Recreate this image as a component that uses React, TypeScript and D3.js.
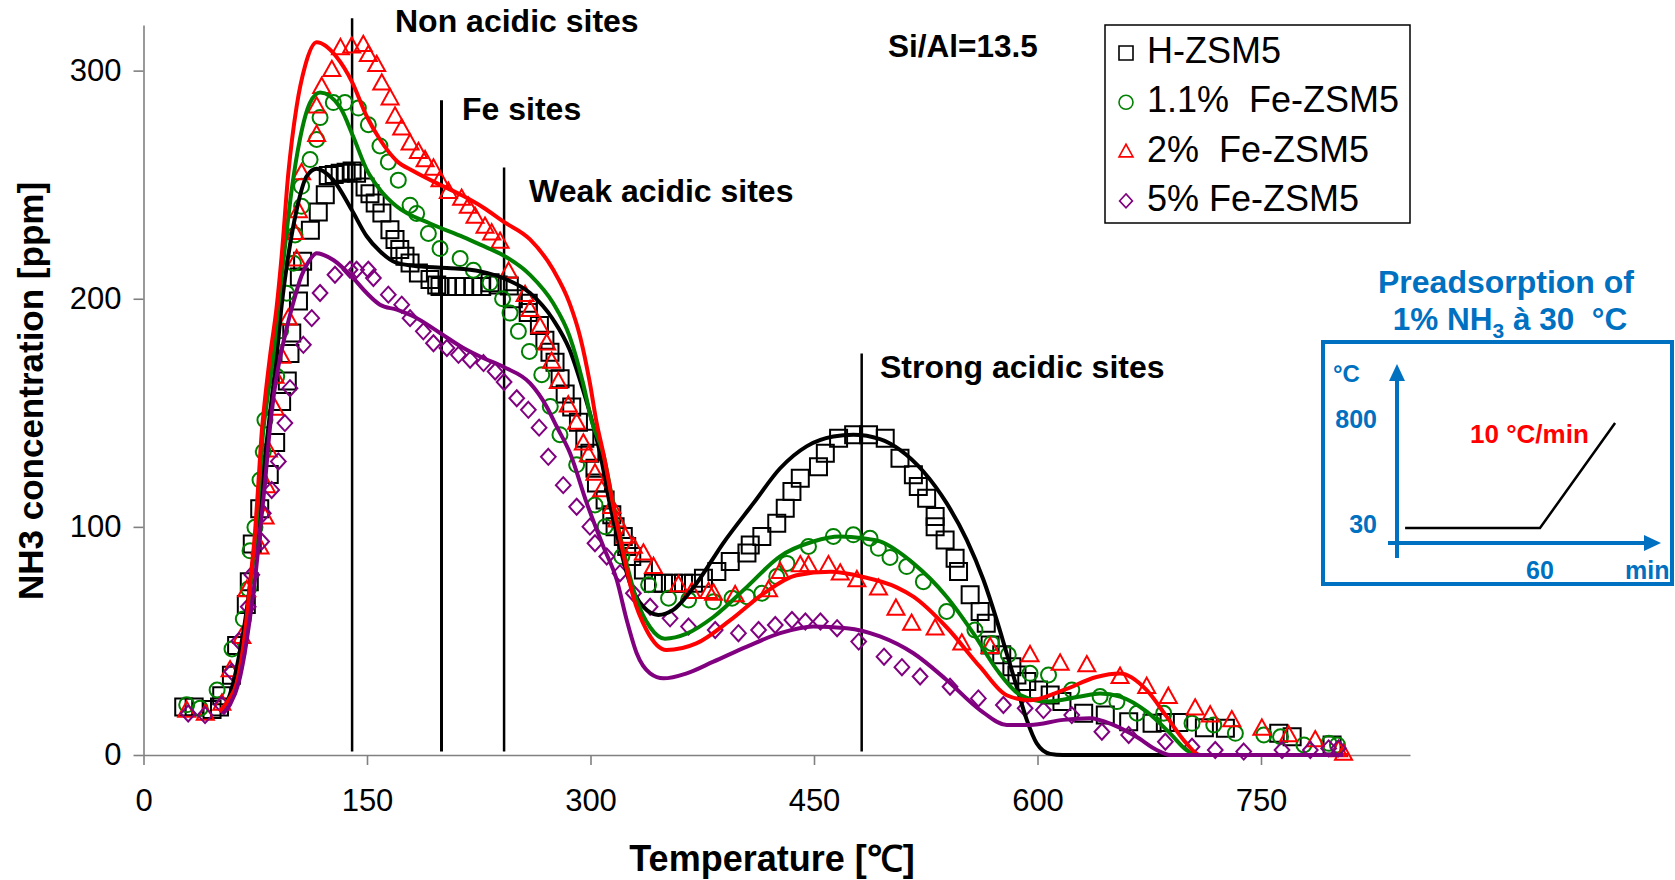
import React, { useEffect, useRef } from 'react';
import * as d3 from 'd3';

type Pt = [number, number];

// axis ticks
const xTicks = [0, 150, 300, 450, 600, 750];
const yTicks = [0, 100, 200, 300];

// measured points: [temperature °C, NH3 ppm]
const hzsm5Pts: Pt[] = [
  [27, 21], [34, 21], [46, 20], [51, 21], [52.5, 26], [59, 35], [62.5, 48], [69, 66], [71, 76], [73, 92.5],
  [78, 108], [84.4, 123], [88.7, 137], [92.7, 155], [96.5, 164], [98.3, 176], [99.5, 185], [104, 199],
  [104.6, 209.5], [106.8, 216.4], [112, 230], [117.3, 238], [122, 245.6], [124, 254], [128, 254.5],
  [132, 255], [136, 255.5], [140, 256], [143, 255], [148.7, 249], [152, 246], [155.5, 242], [160, 237.6],
  [165.4, 230.3], [168.8, 226], [172, 221.6], [175.5, 218.6], [178.9, 215.7], [184.5, 211.3], [192.3, 208.4],
  [196.8, 206], [199, 205.4], [204, 205.4], [210, 205.4], [215, 205.4], [221, 205.4], [227, 205.4],
  [232.6, 207], [238, 206], [245.5, 205.6], [248.2, 200], [258.2, 198], [258.2, 194], [265.7, 188.3],
  [269.4, 181.8], [272.8, 176.6], [276.2, 172.2], [279.6, 164.9], [283, 158.3], [287.4, 152.5],
  [291.9, 145.9], [296.2, 138.9], [299.6, 132.3], [303, 125.7], [304, 119.2], [309.8, 111.8], [314.3, 105.3],
  [316.5, 100.1], [322, 95.8], [324.3, 91.4], [327.7, 87], [335.5, 81.1], [342.2, 75.3], [349, 75.3],
  [355.7, 75.3], [362.4, 75.3], [369.1, 75.3], [375.8, 77.5], [384.8, 80.4], [393.8, 84.8], [405, 88.5],
  [407.2, 92.1], [415, 95.8], [425, 101.6], [430.7, 108.2], [435.2, 115.5], [440.8, 121.3], [453, 126.4],
  [457.6, 132.3], [466.5, 138.9], [476.6, 140.4], [486.6, 140.4], [497.8, 138.9], [507.7, 130.1],
  [516.7, 122.8], [520, 117.7], [525.6, 112.6], [531.3, 104.5], [531.3, 100.1], [538, 94.3], [544.7, 86.2],
  [547, 80.4], [554.8, 70.2], [561.5, 62.9], [565.6, 57.7], [568.2, 48.2], [576, 43.9], [582.8, 38.7],
  [586.2, 35.1], [592.8, 32.2], [600.7, 28.5], [608.5, 26.3], [616.4, 23.4], [631, 18.3], [645.5, 17.5],
  [661.2, 14.6], [676.9, 13.9], [685.8, 14.2], [694.8, 14.2], [712, 12], [726.1, 11.7], [761.9, 9.5],
  [770.9, 8], [797.7, 4.4],
];

const fe11Pts: Pt[] = [
  [29, 22], [38, 20.5], [49.4, 28.5], [59.4, 46.5], [67, 59.6], [70.4, 72.8], [71.5, 89.5], [74.8, 99.8],
  [78.2, 120.5], [80.4, 132.9], [81.5, 146.8], [89.4, 166], [92, 186], [96.1, 202.4], [100.6, 215.6],
  [101.7, 228], [106.1, 240.5], [106.1, 249.3], [111.8, 261], [116.2, 269.8], [118.5, 279.4], [127.4, 286],
  [135.2, 286], [144.2, 283.6], [150.9, 276.3], [158.7, 267], [164.3, 260], [171, 252], [178.9, 241],
  [183.3, 237.4], [191.2, 228.6], [199, 222], [212.5, 217.6], [221.4, 212.5], [232.6, 207], [241, 200],
  [246, 193.7], [251.6, 185.7], [259, 176.9], [267.3, 166.7], [273, 152.8], [279.5, 140.4], [290.7, 127.2],
  [303, 109.6], [309.8, 100.1], [321, 87], [339, 74.6], [352.4, 68.7], [365.8, 68], [382.6, 67.2],
  [395, 68.7], [405, 69.4], [415, 70.9], [425, 78.2], [431.8, 84], [446.3, 91.4], [463, 95.8], [476.4, 96.5],
  [487.6, 95], [493.2, 90.6], [501, 86.6], [512.2, 82.6], [523.4, 76], [539, 62.9], [558, 54.8],
  [569.2, 48.9], [580.4, 43.9], [595, 35.8], [607.4, 35.1], [623, 28.5], [642, 25.6], [653.3, 23.4],
  [666.8, 18.3], [684.7, 18.3], [703.7, 13.9], [718.3, 13.2], [732.8, 9.5], [751.9, 8.8], [763.1, 8],
  [778.8, 4.4], [795.6, 5.1], [801.3, 4.4],
];

const fe2Pts: Pt[] = [
  [29, 19.6], [41.5, 18.2], [52.6, 22.6], [58.1, 37.3], [66, 51.9], [69.3, 72.4], [78.2, 91.1], [81.6, 104.3],
  [82.5, 118], [83.8, 133.6], [88.3, 151.9], [88.3, 166], [92.7, 174.7], [97.2, 191.5], [102.8, 217.4],
  [101.7, 229], [104, 238.5], [106.1, 255.2], [116.2, 272], [116.2, 284.4], [119.6, 293], [126.4, 300.4],
  [132.2, 310], [139.7, 310.7], [147.5, 311.4], [150.9, 307], [156.5, 302.6], [159.9, 294.5], [165.5, 288],
  [168.8, 280], [173.3, 274.8], [178.9, 268.2], [184.5, 264.5], [189, 260.9], [194.6, 257.2], [199, 252.1],
  [204.6, 247], [213.5, 244], [218, 240.5], [222.5, 236.1], [229.2, 231.7], [233.7, 228.8], [239.3, 225.1],
  [245, 212], [256.1, 201.8], [259.4, 195.2], [266.1, 187.9], [270.6, 180.5], [273.9, 172.5], [278.4, 163.7],
  [285.1, 153.4], [290.7, 145.8], [295.2, 136.7], [298.6, 131.6], [303, 123.5], [307.5, 116.2],
  [314.3, 108.9], [317.6, 103], [323.2, 95.8], [328.8, 91.4], [335.5, 88.5], [342.3, 82.6], [359, 74.6],
  [368, 71.6], [379.2, 71.6], [382.6, 70.9], [397.1, 70.2], [419.5, 72.4], [427.3, 80.4], [440.8, 83.3],
  [446.3, 83.3], [459.7, 83.3], [467.6, 79.7], [478.8, 76.8], [493.3, 73.1], [505, 64.3], [515.5, 57.7],
  [531.3, 55.6], [549.2, 49], [568.2, 47.5], [595, 43.9], [615.2, 40.2], [633.1, 39.5], [655.4, 34.4],
  [673.3, 30], [687.8, 25.6], [705.8, 20.5], [715.9, 17.5], [730.4, 15.4], [750.6, 11.7], [768.5, 8.8],
  [786.4, 6.6], [802, 2.2], [805.4, 0.7],
];

const fe5Pts: Pt[] = [
  [30, 18.2], [41.3, 17.5], [52.5, 22], [59.2, 36.5], [64, 50], [70.3, 65], [72.7, 79], [79.3, 93.6],
  [80.4, 106], [86, 116.2], [90.5, 128.7], [94.9, 145.5], [98.3, 160.8], [107.3, 179.8], [112.9, 191.5],
  [118.5, 202.5], [128.5, 210.5], [138.6, 212.7], [143, 212.7], [150.9, 212.7], [154.3, 209.1],
  [164.3, 201.8], [173.3, 197.4], [178.9, 191.5], [187.8, 185.7], [194.6, 180.5], [203.6, 178.4],
  [211.4, 175.4], [219.2, 173.3], [228.2, 171.8], [236, 168.1], [242, 163.5], [250.5, 156.4], [258.3, 151.3],
  [265.5, 143.5], [271.7, 130.7], [281.7, 118.3], [290.7, 108.8], [299.6, 100.1], [303, 92.8], [310.9, 87],
  [319.8, 79.7], [328.8, 70.9], [340, 65], [353.4, 59.9], [365.8, 56.3], [383.7, 54.8], [399.3, 53.4],
  [412.8, 54.8], [424, 57], [435.2, 59.2], [444.2, 58.5], [454.3, 58.5], [465.5, 55.6], [480, 49.7],
  [497, 43.1], [509, 38.5], [521.2, 34.4], [541.3, 29.9], [560.3, 24.8], [577.1, 21.9], [591.7, 20.5],
  [604, 19.7], [623, 17.5], [643.2, 10.2], [661.2, 8.8], [685.8, 5.8], [703.7, 3.6], [719.3, 2.2],
  [738.4, 1.5], [764.1, 2.2], [783.1, 2.2], [795.4, 2.9], [802, 2.9],
];

// fitted curves
const hzsm5Fit: Pt[] = [
  [52, 19], [56, 23], [60, 31], [64, 43], [68, 58], [71, 72], [74, 88], [77, 105], [80, 122], [83, 139],
  [86, 156], [89.4, 175], [92.7, 197], [97.2, 219], [102.8, 239], [109.5, 253.7], [116.2, 257],
  [127.4, 252], [139.7, 239], [149.8, 227.4], [158.7, 220.8], [170, 215.7], [181, 214.5], [203.6, 213.5],
  [226, 212], [241.6, 209], [259.4, 202.5], [275, 190.8], [286, 177.6], [295, 160], [300.8, 147],
  [306.4, 132.3], [313, 110], [319.7, 91.4], [326.5, 75.3], [335.4, 65], [345.5, 61.4], [355.5, 63.6],
  [371.2, 75.3], [389, 92.8], [409.4, 110.4], [427.3, 125.7], [445, 135.3], [463, 139.6], [476.4, 140.4],
  [494.3, 138.5], [507.7, 133.8], [523.4, 124.3], [539, 110.4], [552.5, 94.3], [563.7, 76.8], [572.6, 59.2],
  [579.3, 44.6], [586, 30], [592.8, 15.4], [599.5, 5.1], [608.5, 0.5], [617, 0], [808, 0],
];

const fe11Fit: Pt[] = [
  [52, 19], [57, 24], [62.5, 31], [68.5, 53], [72, 75], [75.3, 97], [77.8, 119], [80.2, 141], [83.1, 156],
  [87.1, 175], [90.5, 197], [94.3, 219], [99.5, 248], [105, 270], [111.8, 286], [118.5, 290.4],
  [131.9, 284], [140.8, 271], [149.8, 256.6], [158.7, 247.8], [170, 240.4], [192.3, 233], [214.7, 227],
  [226, 223.7], [241.6, 219], [259.4, 210.5], [275, 198], [286, 183.5], [295, 163], [301, 146],
  [308.6, 132], [315.3, 110], [322, 90], [331, 68], [340, 56], [350, 51], [364.6, 53.2], [382.5, 60.5],
  [405, 73.7], [427, 87], [449.5, 93.6], [467.4, 95.8], [483, 95], [494.3, 93.6], [516.7, 84], [539, 69.4],
  [557, 53.3], [572.8, 37.3], [588.5, 26.3], [606.4, 23.4], [628.8, 25.6], [642, 27], [655.4, 25.6],
  [673.3, 19], [689, 9.5], [700, 2.2], [707, 0], [808, 0],
];

const fe2Fit: Pt[] = [
  [51, 19], [57, 24], [62.5, 31.4], [68.1, 53.3], [71.5, 75.3], [74.8, 97.1], [77.1, 119], [79.3, 141],
  [81.5, 155.7], [84.9, 174.7], [89.4, 196.6], [92.7, 218.6], [97.2, 255], [102.8, 284.4], [108.4, 301.9],
  [116.2, 312.4], [129.6, 306], [140, 295], [149.8, 280], [158.7, 269.8], [170, 260.4], [181, 256],
  [199, 250], [214.7, 245], [228, 240], [241.6, 233.8], [259.4, 226], [275, 212.7], [286, 198],
  [293, 183.5], [299.6, 163], [304, 146], [308.6, 132.3], [315, 110.4], [322, 88.4], [328.7, 69.4],
  [337.6, 54.8], [351, 46], [371, 48.9], [393.6, 59], [416, 70.7], [438.3, 78.8], [461, 80.3], [483.2, 78],
  [505.5, 73.5], [516.7, 69.4], [539, 56], [561.5, 38.6], [579.3, 26.2], [595, 24], [617.3, 28.4],
  [639.6, 34.2], [655.4, 35.7], [673.3, 28.4], [686.7, 16.8], [700, 5.1], [709, 0], [808, 0],
];

const fe5Fit: Pt[] = [
  [53, 18], [58, 22], [64, 32], [68, 45], [71, 58], [74.5, 75], [78, 97], [81.5, 119], [84.5, 141],
  [87.5, 158], [91, 172], [95, 184], [100, 197], [106, 210], [111, 216.5], [116.2, 220], [127.4, 217],
  [139.7, 209.8], [149.8, 202.5], [158.7, 197.4], [170, 195.2], [181, 192.3], [199, 185], [214.7, 178.4],
  [228, 174], [242, 170], [259.4, 163], [270.5, 152.8], [277.3, 144], [286.3, 132.3], [297.5, 110.4],
  [308.6, 91.4], [317.6, 76.8], [324.3, 59.2], [331, 44.6], [340, 35.8], [349, 33.6], [364.6, 35.8],
  [382.5, 40.9], [405, 47.5], [427.3, 53.4], [449.5, 56.3], [472, 55.6], [494.3, 52], [516.7, 44.6],
  [539, 32.9], [561.5, 19.7], [579.3, 13.2], [595, 13.2], [617.3, 15.4], [635, 16.1], [650.8, 13.2],
  [666.4, 8], [680, 2.2], [689, 0], [805, 0],
];

const seriesNames = ['H-ZSM5', '1.1%  Fe-ZSM5', '2%  Fe-ZSM5', '5% Fe-ZSM5'];
const seriesColors = ['#000000', '#008000', '#ff0000', '#800080'];
const seriesShapes = ['square', 'circle', 'triangle', 'diamond'];
const seriesPts = [hzsm5Pts, fe11Pts, fe2Pts, fe5Pts];
const seriesFits = [hzsm5Fit, fe11Fit, fe2Fit, fe5Fit];

// site boundaries (temperature) and how high each line reaches (ppm)
const siteTemps = [140, 200, 242, 482];
const siteTops = [323, 287, 257.5, 176];
const siteLabels = ['Non acidic sites', 'Fe sites', 'Weak acidic sites', 'Strong acidic sites'];

// inset: temperature program (min, °C), schematic
const insetRamp: Pt[] = [[3.4, 30], [60, 30], [91.5, 800]];

const FONT = '"Liberation Sans", Arial, Helvetica, sans-serif';

const shapePath = (shape: string, s: number) => {
  const h = s / 2;
  if (shape === 'square') return `M${-h},${-h}H${h}V${h}H${-h}Z`;
  if (shape === 'circle') return `M${h},0A${h},${h} 0 1,1 ${-h},0A${h},${h} 0 1,1 ${h},0Z`;
  if (shape === 'triangle') return `M0,${-h * 1.05}L${h},${h * 0.75}L${-h},${h * 0.75}Z`;
  return `M0,${-h}L${h * 0.92},0L0,${h}L${-h * 0.92},0Z`;
};

const markerSize = [17, 15, 17, 16];

const App = () => {
  const svgRef = useRef<SVGSVGElement>(null);

  useEffect(() => {
    const svg = d3.select(svgRef.current);
    svg.selectAll('*').remove();

    const x = d3.scaleLinear().domain([0, 850]).range([143.5, 1410]);
    const y = d3.scaleLinear().domain([0, 320]).range([755, 25]);

    svg.append('rect').attr('width', 1675).attr('height', 880).attr('fill', '#fff');

    // axes
    const yAxis = svg.append('g')
      .attr('transform', `translate(${x(0)},0)`)
      .call(d3.axisLeft(y).tickValues(yTicks).tickSize(10).tickSizeOuter(0).tickPadding(12));
    const xAxis = svg.append('g')
      .attr('transform', `translate(0,${y(0)})`)
      .call(d3.axisBottom(x).tickValues(xTicks).tickSize(10).tickSizeOuter(0).tickPadding(24));
    [yAxis, xAxis].forEach((g) => {
      g.attr('font-family', FONT).attr('font-size', 31);
      g.selectAll('path, line').attr('stroke', '#808080').attr('stroke-width', 1.6);
      g.selectAll('text').attr('fill', '#000');
    });

    // axis titles
    svg.append('text')
      .attr('transform', 'translate(42.5,391) rotate(-90)')
      .attr('text-anchor', 'middle')
      .attr('font-family', FONT).attr('font-weight', 'bold').attr('font-size', 35)
      .text('NH3 concentration [ppm]');
    svg.append('text')
      .attr('x', 772).attr('y', 871)
      .attr('text-anchor', 'middle')
      .attr('font-family', FONT).attr('font-weight', 'bold').attr('font-size', 36)
      .text('Temperature [℃]');

    // site lines + labels
    const labelPos = [[395, 32], [462, 120], [529, 202], [880, 378]];
    siteTemps.forEach((t, i) => {
      svg.append('line')
        .attr('x1', x(t)).attr('x2', x(t))
        .attr('y1', y(siteTops[i])).attr('y2', y(1.5))
        .attr('stroke', '#000').attr('stroke-width', i === 1 ? 3 : 2.5);
      svg.append('text')
        .attr('x', labelPos[i][0]).attr('y', labelPos[i][1])
        .attr('font-family', FONT).attr('font-weight', 'bold').attr('font-size', 32)
        .text(siteLabels[i]);
    });

    svg.append('text')
      .attr('x', 888).attr('y', 57)
      .attr('font-family', FONT).attr('font-weight', 'bold').attr('font-size', 31.5)
      .text('Si/Al=13.5');

    // markers
    seriesPts.forEach((pts, i) => {
      svg.append('g').selectAll('path')
        .data(pts)
        .enter().append('path')
        .attr('transform', (d) => `translate(${x(d[0])},${y(d[1])})`)
        .attr('d', shapePath(seriesShapes[i], markerSize[i]))
        .attr('fill', 'none')
        .attr('stroke', seriesColors[i])
        .attr('stroke-width', 2);
    });

    // fitted curves
    const line = d3.line<Pt>().x((d) => x(d[0])).y((d) => y(d[1])).curve(d3.curveMonotoneX);
    seriesFits.forEach((pts, i) => {
      svg.append('path')
        .attr('d', line(pts))
        .attr('fill', 'none')
        .attr('stroke', seriesColors[i])
        .attr('stroke-width', 4)
        .attr('stroke-linejoin', 'round');
    });

    // legend
    const legend = svg.append('g');
    legend.append('rect')
      .attr('x', 1105).attr('y', 25).attr('width', 305).attr('height', 198)
      .attr('fill', '#fff').attr('stroke', '#000').attr('stroke-width', 1.5);
    seriesNames.forEach((name, i) => {
      const by = 63 + i * 49.3;
      legend.append('path')
        .attr('transform', `translate(1126,${by - 10})`)
        .attr('d', shapePath(seriesShapes[i], 14))
        .attr('fill', 'none').attr('stroke', seriesColors[i]).attr('stroke-width', 1.6);
      legend.append('text')
        .attr('x', 1147).attr('y', by)
        .attr('font-family', FONT).attr('font-size', 36)
        .style('white-space', 'pre')
        .text(name);
    });

    // inset: temperature program
    const blue = '#0070c0';
    const inset = svg.append('g').attr('font-family', FONT).attr('font-weight', 'bold').attr('fill', blue);
    inset.append('text').attr('x', 1506).attr('y', 293).attr('text-anchor', 'middle')
      .attr('font-size', 32).text('Preadsorption of');
    const t2 = inset.append('text').attr('x', 1510).attr('y', 330).attr('text-anchor', 'middle')
      .attr('font-size', 31.5).style('white-space', 'pre');
    t2.append('tspan').text('1% NH');
    t2.append('tspan').attr('dy', 8).attr('font-size', 21).text('3');
    t2.append('tspan').attr('dy', -8).text(' à 30  °C');

    inset.append('rect')
      .attr('x', 1323).attr('y', 342).attr('width', 349).attr('height', 242)
      .attr('fill', 'none').attr('stroke', blue).attr('stroke-width', 4);

    const tx = d3.scaleLinear().domain([0, 60]).range([1397, 1540]);
    const ty = d3.scaleLinear().domain([30, 800]).range([528, 423]);

    inset.append('line').attr('x1', tx(0)).attr('x2', tx(0)).attr('y1', 558).attr('y2', 378)
      .attr('stroke', blue).attr('stroke-width', 4);
    inset.append('path').attr('d', `M${tx(0)},364L${tx(0) + 8},381L${tx(0) - 8},381Z`).attr('fill', blue);
    inset.append('line').attr('x1', 1388).attr('x2', 1646).attr('y1', 543).attr('y2', 543)
      .attr('stroke', blue).attr('stroke-width', 4);
    inset.append('path').attr('d', `M1661,543L1644,535L1644,551Z`).attr('fill', blue);

    inset.append('text').attr('x', 1333).attr('y', 382).attr('font-size', 24).text('°C');
    inset.append('text').attr('x', 1377).attr('y', ty(800) + 5).attr('text-anchor', 'end').attr('font-size', 25).text('800');
    inset.append('text').attr('x', 1377).attr('y', ty(30) + 5).attr('text-anchor', 'end').attr('font-size', 25).text('30');
    inset.append('text').attr('x', tx(60)).attr('y', 579).attr('text-anchor', 'middle').attr('font-size', 25).text('60');
    inset.append('text').attr('x', 1625).attr('y', 579).attr('font-size', 25).text('min');

    const ramp = d3.line<Pt>().x((d) => tx(d[0])).y((d) => ty(d[1]));
    inset.append('path').attr('d', ramp(insetRamp))
      .attr('fill', 'none').attr('stroke', '#000').attr('stroke-width', 2.5);
    inset.append('text').attr('x', 1470).attr('y', 443).attr('fill', '#ff0000')
      .attr('font-size', 26).text('10 °C/min');
  }, []);

  return (
    <svg
      ref={svgRef}
      width={1675}
      height={880}
      style={{ position: 'absolute', left: 0, top: 0, display: 'block' }}
    ></svg>
  );
};

export default App;
